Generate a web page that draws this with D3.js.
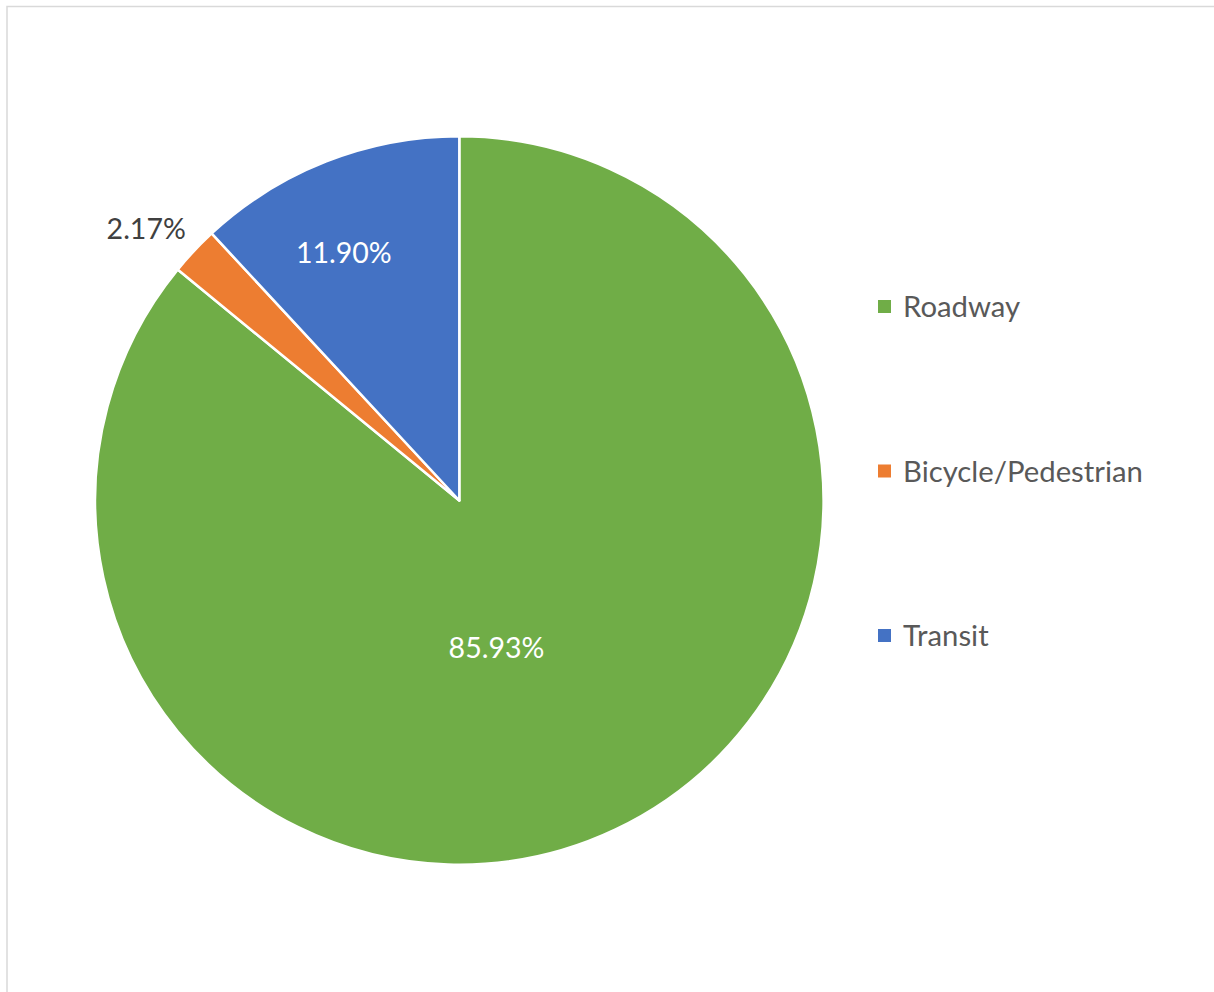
<!DOCTYPE html>
<html>
<head>
<meta charset="utf-8">
<script src="https://cdn.jsdelivr.net/npm/d3@7"></script>
<style>
  html, body { margin: 0; padding: 0; background: #ffffff; }
  svg { display: block; }
</style>
</head>
<body>
<div id="chart"></div>
<script>
// ---- data ----
const categories = ["Roadway", "Bicycle/Pedestrian", "Transit"];
const shares = [85.93, 2.17, 11.90];
const labels = ["85.93%", "2.17%", "11.90%"];
const colors = ["#70AD47", "#ED7D31", "#4472C4"];

// ---- layout ----
const W = 1214, H = 992;
const cx = 459.3, cy = 500.5, R = 364.2;
const font = "Lato, 'Open Sans', sans-serif";

// label placement: [radius fraction, angular fraction within slice]
const labelPlacement = [[0.416, 0.536], [1.139, 0.21], [0.75, 0.416]];
const labelFill = ["#ffffff", "#404040", "#ffffff"];

const svg = d3.select("#chart").append("svg")
  .attr("width", W).attr("height", H);

svg.append("rect")
  .attr("x", 7).attr("y", 6.5)
  .attr("width", W + 40).attr("height", H + 40)
  .attr("fill", "#ffffff")
  .attr("stroke", "#d9d9d9").attr("stroke-width", 1.5);

const pie = d3.pie().sort(null).value(d => d)(shares);
const arc = d3.arc().innerRadius(0).outerRadius(R);

const g = svg.append("g").attr("transform", `translate(${cx},${cy})`);

g.selectAll("path.slice")
  .data(pie)
  .join("path")
  .attr("class", "slice")
  .attr("d", arc)
  .attr("fill", (d, i) => colors[i])
  .attr("stroke", "#ffffff")
  .attr("stroke-width", 2.5)
  .attr("stroke-linejoin", "round");

g.selectAll("text.lbl")
  .data(pie)
  .join("text")
  .attr("class", "lbl")
  .attr("x", (d, i) => {
    const a = d.startAngle + (d.endAngle - d.startAngle) * labelPlacement[i][1];
    return Math.sin(a) * R * labelPlacement[i][0];
  })
  .attr("y", (d, i) => {
    const a = d.startAngle + (d.endAngle - d.startAngle) * labelPlacement[i][1];
    return -Math.cos(a) * R * labelPlacement[i][0];
  })
  .attr("dy", "0.36em")
  .attr("text-anchor", "middle")
  .attr("font-family", font)
  .attr("font-size", 28.5)
  .attr("fill", (d, i) => labelFill[i])
  .text((d, i) => labels[i]);

// ---- legend ----
const legendY = d3.scalePoint().domain(categories).range([306.5, 635.5]);
const legend = svg.append("g");
const items = legend.selectAll("g.item")
  .data(categories)
  .join("g")
  .attr("class", "item")
  .attr("transform", d => `translate(878,${legendY(d)})`);

items.append("rect")
  .attr("x", 0).attr("y", -6.5)
  .attr("width", 13).attr("height", 13)
  .attr("fill", (d, i) => colors[i]);

items.append("text")
  .attr("x", 25).attr("y", 0)
  .attr("dy", "0.36em")
  .attr("font-family", font)
  .attr("font-size", 29.3)
  .attr("fill", "#595959")
  .text(d => d);
</script>
</body>
</html>
